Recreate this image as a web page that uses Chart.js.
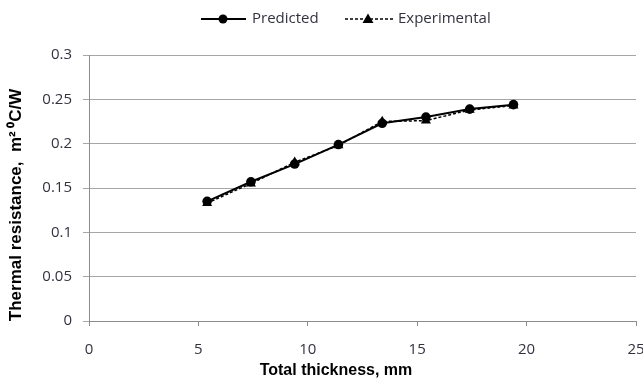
<!DOCTYPE html>
<html lang="en">
<head>
    <meta charset="UTF-8">
    <title>Thermal resistance vs total thickness</title>
    <script src="https://cdn.jsdelivr.net/npm/chart.js"></script>
    <style>
        html, body { margin: 0; padding: 0; background: #fff; }
        #wrap { width: 643px; height: 382px; }
    </style>
</head>
<body>
    <div id="wrap"><canvas id="thermalChart" width="643" height="382"></canvas></div>
    <script>
        // values
        const thickness = [5.4, 7.4, 9.4, 11.4, 13.4, 15.4, 17.4, 19.4];
        const predicted = [0.135, 0.157, 0.177, 0.199, 0.223, 0.230, 0.239, 0.244];
        const experimental = [0.133, 0.155, 0.179, 0.198, 0.225, 0.226, 0.238, 0.243];
        const xTicks = [0, 5, 10, 15, 20, 25];
        const yTicks = [0, 0.05, 0.1, 0.15, 0.2, 0.25, 0.3];

        const labelColor = '#333340';
        const gridColor = '#a6a6a6';
        const tickFont = { family: 'Open Sans', size: 15 };

        function toPoints(xs, ys) {
            return xs.map((x, i) => ({ x: x, y: ys[i] }));
        }

        // legend + axis titles, drawn at fixed places like the original
        const textPlugin = {
            id: 'textPlugin',
            afterDraw(chart) {
                const ctx = chart.ctx;
                ctx.save();
                ctx.fillStyle = '#000';
                ctx.strokeStyle = '#000';

                // legend: Predicted
                ctx.lineWidth = 1.8;
                ctx.setLineDash([]);
                ctx.beginPath();
                ctx.moveTo(201, 19);
                ctx.lineTo(246, 19);
                ctx.stroke();
                ctx.beginPath();
                ctx.arc(223, 19, 4.5, 0, Math.PI * 2);
                ctx.fill();

                // legend: Experimental
                ctx.lineWidth = 1.3;
                ctx.setLineDash([3, 2]);
                ctx.beginPath();
                ctx.moveTo(345, 19);
                ctx.lineTo(394, 19);
                ctx.stroke();
                ctx.setLineDash([]);
                ctx.beginPath();
                ctx.moveTo(368, 13.5);
                ctx.lineTo(373.5, 23);
                ctx.lineTo(362.5, 23);
                ctx.closePath();
                ctx.fill();

                ctx.fillStyle = labelColor;
                ctx.font = '15px "Open Sans"';
                ctx.textBaseline = 'middle';
                ctx.textAlign = 'left';
                ctx.fillText('Predicted', 252, 19);
                ctx.fillText('Experimental', 398, 19);

                // axis titles
                ctx.fillStyle = '#000';
                ctx.font = 'bold 16px "Liberation Sans", Arial, sans-serif';
                ctx.textAlign = 'center';
                ctx.fillText('Total thickness, mm', 336, 371);

                ctx.font = 'bold 17px "Liberation Sans", Arial, sans-serif';
                ctx.translate(16, 205);
                ctx.rotate(-Math.PI / 2);
                ctx.fillText('Thermal resistance,  m\u00b2\u2009\u2070C/W', 0, 0);
                ctx.restore();
            }
        };

        new Chart(document.getElementById('thermalChart'), {
            type: 'line',
            data: {
                datasets: [
                    {
                        label: 'Predicted',
                        data: toPoints(thickness, predicted),
                        borderColor: '#000',
                        backgroundColor: '#000',
                        borderWidth: 2,
                        pointStyle: 'circle',
                        pointRadius: 4.8,
                        pointBorderWidth: 0,
                        tension: 0
                    },
                    {
                        label: 'Experimental',
                        data: toPoints(thickness, experimental),
                        borderColor: '#000',
                        backgroundColor: '#000',
                        borderWidth: 1.5,
                        borderDash: [3, 2],
                        pointStyle: 'triangle',
                        pointRadius: 5.8,
                        pointBorderWidth: 0,
                        tension: 0
                    }
                ]
            },
            options: {
                responsive: false,
                animation: false,
                layout: { padding: { top: 55, right: 7, bottom: 0, left: 0 } },
                plugins: {
                    legend: { display: false },
                    tooltip: { enabled: false }
                },
                scales: {
                    x: {
                        type: 'linear',
                        min: xTicks[0],
                        max: xTicks[xTicks.length - 1],
                        afterBuildTicks: s => { s.ticks = xTicks.map(v => ({ value: v })); },
                        afterFit: s => { s.height = 61; s.paddingLeft = 0; s.paddingRight = 0; },
                        border: { color: '#8c8c8c', width: 1 },
                        grid: { drawOnChartArea: false, drawTicks: true, tickLength: 5, color: '#8c8c8c' },
                        ticks: { color: labelColor, font: tickFont, padding: 15, maxRotation: 0 }
                    },
                    y: {
                        min: yTicks[0],
                        max: yTicks[yTicks.length - 1],
                        afterBuildTicks: s => { s.ticks = yTicks.map(v => ({ value: v })); },
                        afterFit: s => { s.width = 89; s.paddingTop = 0; s.paddingBottom = 0; },
                        border: { color: '#8c8c8c', width: 1 },
                        grid: { color: gridColor, tickLength: 6, drawTicks: true },
                        ticks: {
                            color: labelColor,
                            font: tickFont,
                            padding: 11,
                            callback: v => String(+Number(v).toFixed(2))
                        }
                    }
                }
            },
            plugins: [textPlugin]
        });
    </script>
</body>
</html>
